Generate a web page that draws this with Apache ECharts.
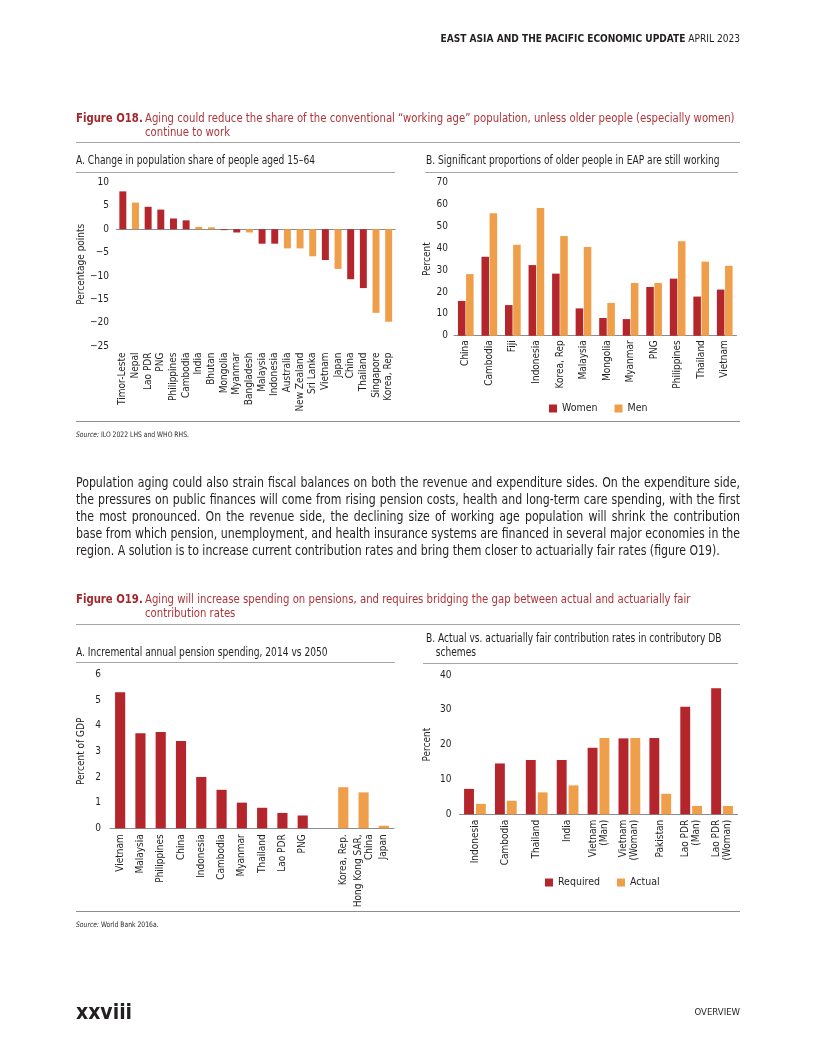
<!DOCTYPE html>
<html><head><meta charset="utf-8">
<script src="https://cdn.jsdelivr.net/npm/echarts@6/dist/echarts.min.js"></script>
<style>
html,body{margin:0;padding:0;background:#fff;}
#page{position:relative;width:816px;height:1056px;overflow:hidden;font-family:"Liberation Sans Narrow","DejaVu Sans Condensed","Open Sans",sans-serif;color:#231f20;}
#chart{position:absolute;left:0;top:0;width:816px;height:1056px;}
.t{position:absolute;white-space:nowrap;transform-origin:0 0;}
.rule{position:absolute;height:0;border-top:1.5px solid #a5a5a5;}
.figlab{color:#a4262c;font-weight:bold;font-size:12.5px;line-height:14px;transform:scaleX(0.9);}
.figtxt{color:#b0343a;font-size:12.5px;line-height:14px;transform:scaleX(0.9);}
.ptitle{font-size:11.5px;line-height:14px;color:#231f20;transform:scaleX(0.88);}
.src{font-size:7.5px;line-height:10px;transform:scaleX(0.9);}
.para{position:absolute;left:76px;width:762px;font-size:14px;line-height:17px;transform:scaleX(0.8714);transform-origin:0 0;}
.para div{text-align:justify;text-align-last:justify;white-space:nowrap;}
.para div.last{text-align-last:left;}
</style></head>
<body><div id="page">
<div id="chart"></div>

<div class="t" style="right:76px;top:31px;font-size:10.5px;line-height:14px;transform:scaleX(0.96);transform-origin:100% 0;"><b>EAST ASIA AND THE PACIFIC ECONOMIC UPDATE</b> APRIL 2023</div>

<div class="t figlab" style="left:76px;top:111px;">Figure O18.</div>
<div class="t figtxt" style="left:145px;top:111px;">Aging could reduce the share of the conventional “working age” population, unless older people (especially women)<br>continue to work</div>
<div class="rule" style="left:76px;top:142px;width:664px;"></div>

<div class="t ptitle" style="left:76px;top:153px;">A. Change in population share of people aged 15–64</div>
<div class="rule" style="left:76px;top:172px;width:319px;"></div>
<div class="t ptitle" style="left:426px;top:153px;">B. Significant proportions of older people in EAP are still working</div>
<div class="rule" style="left:425px;top:172px;width:313px;"></div>

<div class="rule" style="left:76px;top:421px;width:664px;border-color:#8e8e8e;"></div>
<div class="t src" style="left:76px;top:430px;"><i>Source:</i> ILO 2022 LHS and WHO RHS.</div>

<div class="para" style="top:474px;">
<div>Population aging could also strain fiscal balances on both the revenue and expenditure sides. On the expenditure side,</div>
<div>the pressures on public finances will come from rising pension costs, health and long-term care spending, with the first</div>
<div>the most pronounced. On the revenue side, the declining size of working age population will shrink the contribution</div>
<div>base from which pension, unemployment, and health insurance systems are financed in several major economies in the</div>
<div class="last">region. A solution is to increase current contribution rates and bring them closer to actuarially fair rates (figure O19).</div>
</div>

<div class="t figlab" style="left:76px;top:592px;">Figure O19.</div>
<div class="t figtxt" style="left:145px;top:592px;">Aging will increase spending on pensions, and requires bridging the gap between actual and actuarially fair<br>contribution rates</div>
<div class="rule" style="left:76px;top:624px;width:664px;"></div>

<div class="t ptitle" style="left:76px;top:645px;">A. Incremental annual pension spending, 2014 vs 2050</div>
<div class="rule" style="left:76px;top:662px;width:319px;"></div>
<div class="t ptitle" style="left:426px;top:631px;">B. Actual vs. actuarially fair contribution rates in contributory DB<br><span style="padding-left:11px">schemes</span></div>
<div class="rule" style="left:423px;top:663px;width:315px;"></div>

<div class="rule" style="left:76px;top:911px;width:664px;border-color:#8e8e8e;"></div>
<div class="t src" style="left:76px;top:920px;"><i>Source:</i> World Bank 2016a.</div>

<div class="t" style="left:76px;top:999px;font-size:21px;font-weight:bold;line-height:26px;">xxviii</div>
<div class="t" style="right:76px;top:1006px;font-size:9.5px;line-height:12px;">OVERVIEW</div>
</div>
<script>
// ---- Figure O18 A ----
const popCats = ['Timor-Leste','Nepal','Lao PDR','PNG','Philippines','Cambodia','India','Bhutan','Mongolia','Myanmar','Bangladesh','Malaysia','Indonesia','Australia','New Zealand','Sri Lanka','Vietnam','Japan','China','Thailand','Singapore','Korea, Rep'];
const popChange = [8.1,5.7,4.8,4.2,2.3,1.9,0.5,0.4,-0.2,-0.7,-0.7,-3.1,-3.1,-4.1,-4.1,-5.8,-6.6,-8.5,-10.7,-12.6,-17.9,-19.8];
const popSource = ['ILO','WHO','ILO','ILO','ILO','ILO','WHO','WHO','ILO','ILO','WHO','ILO','ILO','WHO','WHO','WHO','ILO','WHO','ILO','ILO','WHO','WHO'];
const popTicks = {min:-25, max:10, step:5};

// ---- Figure O18 B ----
const eapCats = ['China','Cambodia','Fiji','Indonesia','Korea, Rep','Malaysia','Mongolia','Myanmar','PNG','Philippines','Thailand','Vietnam'];
const eapWomen = [15.9,36.1,14.0,32.3,28.4,12.5,8.1,7.6,22.3,26.1,17.9,21.1];
const eapMen = [28.2,56.0,41.6,58.4,45.6,40.6,15.0,24.1,24.1,43.2,33.9,32.0];
const eapTicks = {min:0, max:70, step:10};

// ---- Figure O19 A ----
const pensionCats = ['Vietnam','Malaysia','Philippines','China','Indonesia','Cambodia','Myanmar','Thailand','Lao PDR','PNG','','Korea, Rep.','Hong Kong SAR,\nChina','Japan'];
const pensionVals = [5.3,3.7,3.75,3.4,2.0,1.5,1.0,0.8,0.6,0.5,null,1.6,1.4,0.1];
const pensionGroup = ['dev','dev','dev','dev','dev','dev','dev','dev','dev','dev','','high','high','high'];
const pensionTicks = {min:0, max:6, step:1};

// ---- Figure O19 B ----
const contribCats = ['Indonesia','Cambodia','Thailand','India','Vietnam\n(Man)','Vietnam\n(Woman)','Pakistan','Lao PDR\n(Man)','Lao PDR\n(Woman)'];
const contribRequired = [7.3,14.6,15.6,15.6,19.1,21.8,21.9,30.9,36.2];
const contribActual = [3.0,3.9,6.3,8.3,21.9,21.9,5.9,2.4,2.4];
const contribTicks = {min:0, max:40, step:10};

const RED = '#b5252c', ORANGE = '#ef9e4a', AXIS = '#8c8c8c', TXT = '#231f20';
const FONT = '"Liberation Sans Narrow","DejaVu Sans Condensed","Open Sans",sans-serif';

function catAxis(grid, data, margin){
  return {gridIndex:grid, type:'category', data:data, axisTick:{show:false},
    axisLine:{lineStyle:{color:AXIS, width:1}},
    axisLabel:{rotate:90, interval:0, margin:margin, fontSize:10, color:TXT, fontFamily:FONT, lineHeight:11}};
}
function valAxis(grid, t, name, gap, margin){
  return {gridIndex:grid, type:'value', min:t.min, max:t.max, interval:t.step,
    name:name, nameLocation:'middle', nameGap:gap, nameRotate:90,
    nameTextStyle:{fontSize:10, color:TXT, fontFamily:FONT},
    axisLine:{show:false}, axisTick:{show:false}, splitLine:{show:false},
    axisLabel:{fontSize:10, color:TXT, fontFamily:FONT, margin:margin,
      formatter:v=>String(v).replace('-','\u2212')}};
}

const chart = echarts.init(document.getElementById('chart'), null, {renderer:'canvas'});
const xA0 = catAxis(0, popCats, 6.5); xA0.axisLine = {show:false, onZero:false};
const xA1 = {gridIndex:0, type:'category', data:popCats, axisTick:{show:false}, axisLabel:{show:false},
  axisLine:{onZero:true, lineStyle:{color:AXIS, width:1}}};
chart.setOption({
  animation:false,
  textStyle:{fontFamily:FONT},
  grid:[
    {left:116.5, top:182.5, width:278.5, height:163.5},
    {left:454, top:182.7, width:282.5, height:153},
    {left:110, top:674.3, width:284, height:154},
    {left:459.5, top:675, width:278, height:139.3}
  ],
  xAxis:[xA0, xA1, catAxis(1, eapCats, 4.5), catAxis(2, pensionCats, 6), catAxis(3, contribCats, 5.5)],
  yAxis:[
    valAxis(0, popTicks, 'Percentage points', 30.5, 7.5),
    valAxis(1, eapTicks, 'Percent', 22, 6),
    valAxis(2, pensionTicks, 'Percent of GDP', 24, 9),
    valAxis(3, contribTicks, 'Percent', 27.5, 8)
  ],
  legend:[
    {data:['Women','Men'], left:549, top:403, itemWidth:8, itemHeight:8, itemGap:17, icon:'rect', padding:0,
      textStyle:{fontSize:10.5, color:TXT, fontFamily:FONT}},
    {data:['Required','Actual'], left:545, top:877, itemWidth:8, itemHeight:8, itemGap:17, icon:'rect', padding:0,
      textStyle:{fontSize:10.5, color:TXT, fontFamily:FONT}}
  ],
  series:[
    {name:'Change', type:'bar', xAxisIndex:0, yAxisIndex:0, data:popChange, barWidth:'55%',
      itemStyle:{color:p=>popSource[p.dataIndex]==='WHO'?ORANGE:RED}},
    {name:'Women', type:'bar', xAxisIndex:2, yAxisIndex:1, data:eapWomen, barWidth:'32%', barGap:'8%', itemStyle:{color:RED}},
    {name:'Men', type:'bar', xAxisIndex:2, yAxisIndex:1, data:eapMen, barWidth:'32%', barGap:'8%', itemStyle:{color:ORANGE}},
    {name:'Pension', type:'bar', xAxisIndex:3, yAxisIndex:2, data:pensionVals, barWidth:'50%',
      itemStyle:{color:p=>pensionGroup[p.dataIndex]==='high'?ORANGE:RED}},
    {name:'Required', type:'bar', xAxisIndex:4, yAxisIndex:3, data:contribRequired, barWidth:'32%', barGap:'20%', itemStyle:{color:RED}},
    {name:'Actual', type:'bar', xAxisIndex:4, yAxisIndex:3, data:contribActual, barWidth:'32%', barGap:'20%', itemStyle:{color:ORANGE}}
  ]
});
</script>
</body></html>
